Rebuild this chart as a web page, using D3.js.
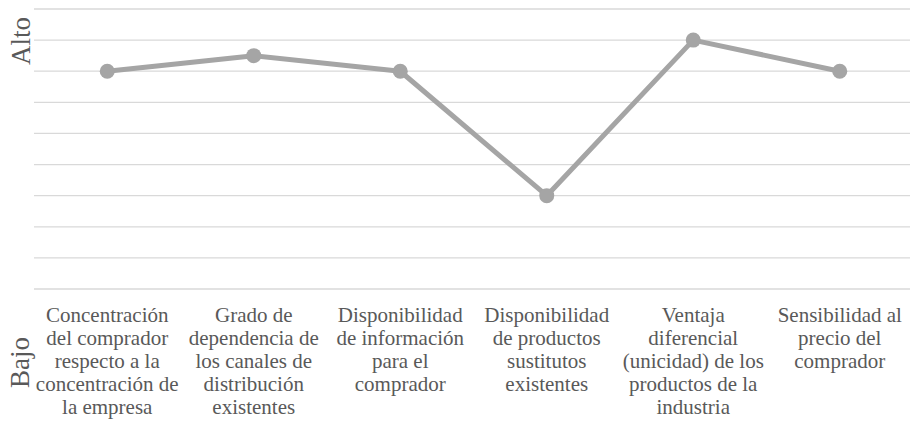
<!DOCTYPE html>
<html>
<head>
<meta charset="utf-8">
<script src="https://cdn.jsdelivr.net/npm/d3@7"></script>
<style>
  html, body { margin: 0; padding: 0; background: #ffffff; }
  svg { display: block; }
  .lbl { font-family: "Liberation Serif", "Times New Roman", serif; fill: #595959; }
</style>
</head>
<body>
<svg id="chart" width="910" height="422"></svg>
<script>
// Factor labels, each split into the lines shown under the axis
const categories = [
  ["Concentración", "del comprador", "respecto a la", "concentración de", "la empresa"],
  ["Grado de", "dependencia de", "los canales de", "distribución", "existentes"],
  ["Disponibilidad", "de información", "para el", "comprador"],
  ["Disponibilidad", "de productos", "sustitutos", "existentes"],
  ["Ventaja", "diferencial", "(unicidad) de los", "productos de la", "industria"],
  ["Sensibilidad al", "precio del", "comprador"]
];
// Rating of each factor on a 0–9 scale
const values = [7, 7.5, 7, 3, 8, 7];
const yTicks = [0, 1, 2, 3, 4, 5, 6, 7, 8, 9];
const axisLabels = { high: "Alto", low: "Bajo" };

const svg = d3.select("#chart");
const plot = { left: 34, right: 913, top: 9, bottom: 289 };

const x = d3.scaleBand()
  .domain(d3.range(categories.length))
  .range([plot.left, plot.right])
  .padding(0);

const y = d3.scaleLinear()
  .domain([0, 9])
  .range([plot.bottom, plot.top]);

// Horizontal gridlines
svg.append("g")
  .selectAll("line")
  .data(yTicks)
  .join("line")
  .attr("x1", plot.left)
  .attr("x2", plot.right)
  .attr("y1", d => y(d))
  .attr("y2", d => y(d))
  .attr("stroke", "#d9d9d9")
  .attr("stroke-width", 1.3);

// Category labels: one text element per line, centred under each point
const labelData = categories.flatMap((lines, i) =>
  lines.map((ln, j) => ({ i, j, ln })));

svg.append("g")
  .selectAll("text")
  .data(labelData)
  .join("text")
  .attr("class", "lbl")
  .style("font-size", "21px")
  .attr("text-anchor", "middle")
  .attr("x", d => x(d.i) + x.bandwidth() / 2)
  .attr("y", d => 321.5 + d.j * 23)
  .text(d => d.ln);

// Series line
const line = d3.line()
  .x((d, i) => x(i) + x.bandwidth() / 2)
  .y(d => y(d));

svg.append("path")
  .datum(values)
  .attr("fill", "none")
  .attr("stroke", "#a5a5a5")
  .attr("stroke-width", 5)
  .attr("stroke-linejoin", "round")
  .attr("d", line);

svg.append("g")
  .selectAll("circle")
  .data(values)
  .join("circle")
  .attr("cx", (d, i) => x(i) + x.bandwidth() / 2)
  .attr("cy", d => y(d))
  .attr("r", 7.5)
  .attr("fill", "#a5a5a5");

// Vertical axis end labels
svg.append("text")
  .attr("class", "lbl")
  .attr("transform", "translate(30,65) rotate(-90)")
  .style("font-size", "27px")
  .attr("text-anchor", "start")
  .text(axisLabels.high);

svg.append("text")
  .attr("class", "lbl")
  .attr("transform", "translate(29,388) rotate(-90)")
  .style("font-size", "27px")
  .attr("text-anchor", "start")
  .text(axisLabels.low);
</script>
</body>
</html>
